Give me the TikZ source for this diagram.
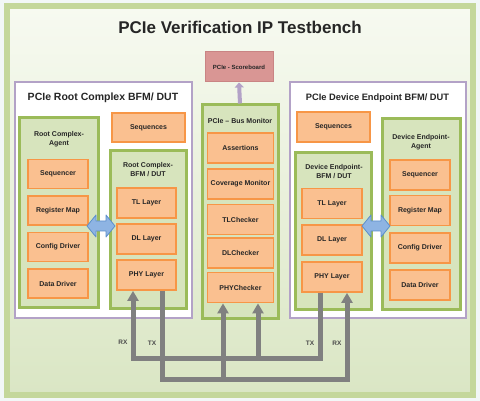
\documentclass[tikz,border=0pt]{standalone}
\usepackage{fontspec}
\setmainfont{Liberation Sans}
\usetikzlibrary{arrows.meta,shadows}
\definecolor{bgc}{HTML}{F2F7F7}
\definecolor{frame}{HTML}{C4D79B}
\definecolor{paneltop}{HTML}{F7FAF1}
\definecolor{panelbot}{HTML}{DAE6C4}
\definecolor{orfill}{HTML}{FAC090}
\definecolor{orline}{HTML}{F79646}
\definecolor{grfill}{HTML}{D7E4BD}
\definecolor{grline}{HTML}{9BBB59}
\definecolor{puline}{HTML}{B3A2C7}
\definecolor{sbfill}{HTML}{D99694}
\definecolor{sbline}{HTML}{C98484}
\definecolor{blfill}{HTML}{8EB4E3}
\definecolor{blline}{HTML}{5B8FCC}
\definecolor{busc}{HTML}{808080}
\definecolor{txt}{HTML}{262626}
\begin{document}
\begin{tikzpicture}[x=1pt,y=-1pt,
  obox/.style={draw=orline, fill=orfill, line width=1.8pt, inner sep=0pt,
    font=\fontsize{7}{8.4}\selectfont\bfseries, text=txt,
    drop shadow={shadow xshift=0.6pt, shadow yshift=-1pt, fill=black!55, opacity=0.5}},
  gbox/.style={draw=grline, fill=grfill, line width=3pt, inner sep=0pt},
  pbox/.style={draw=puline, fill=white, line width=2.6pt, inner sep=0pt},
  ptitle/.style={font=\fontsize{10.5}{12}\selectfont\bfseries, text=txt},
  gtitle/.style={font=\fontsize{7}{8.8}\selectfont\bfseries, text=txt, align=center},
  bus/.style={draw=busc, line width=5pt, line join=miter},
  busarrow/.style={bus, -{Triangle[width=11pt,length=10pt]}},
  lbl/.style={font=\fontsize{6.5}{7.5}\selectfont\bfseries, text=black!70},
  dbl/.style={fill=blfill, draw=blline, line width=0.8pt, line join=round}
]
\useasboundingbox (0,0) rectangle (480,401);
\fill[bgc] (0,0) rectangle (480,401);
% outer frame
\shade[top color=paneltop, bottom color=panelbot] (7,6.5) rectangle (473,394.5);
\draw[frame, line width=6pt] (7,6.5) rectangle (473,394.5);
\node[font=\fontsize{17}{19}\selectfont\bfseries, text=txt] (title) at (240,27) {PCIe Verification IP Testbench};

% scoreboard
\node[draw=sbline, fill=sbfill, line width=1pt, minimum width=68pt, minimum height=30pt,
  font=\fontsize{6}{7}\selectfont\bfseries, text=txt] (sb) at (239,67) {PCIe - Scoreboard};

% purple containers
\node[pbox, minimum width=177pt, minimum height=236pt] (rc) at (103.5,200) {};
\node[ptitle] (rct) at (103,98) {PCIe Root Complex BFM/ DUT};
\node[pbox, minimum width=176pt, minimum height=236pt] (de) at (378,200) {};
\node[ptitle, font=\fontsize{9.3}{11}\selectfont\bfseries] (det) at (377.5,98) {PCIe Device Endpoint BFM/ DUT};

% left agent
\node[gbox, minimum width=79pt, minimum height=190pt] (ragent) at (58.5,213) {};
\node[gtitle] (ragentt) at (59,139.5) {Root Complex-\\Agent};
\node[obox, minimum width=60pt, minimum height=29pt] (rseq) at (58,174) {Sequencer};
\node[obox, minimum width=60pt, minimum height=29pt] (rreg) at (58,210.5) {Register Map};
\node[obox, minimum width=60pt, minimum height=29pt] (rcfg) at (58,247) {Config Driver};
\node[obox, minimum width=60pt, minimum height=29pt] (rdat) at (58,283.5) {Data Driver};

% left sequences + BFM
\node[obox, minimum width=73pt, minimum height=29pt] (rseqs) at (148.5,127.5) {Sequences};
\node[gbox, minimum width=76pt, minimum height=158pt] (rbfm) at (148,230) {};
\node[gtitle] (rbfmt) at (148,169.5) {Root Complex-\\BFM / DUT};
\node[obox, minimum width=59pt, minimum height=30pt] (rtl) at (146.5,203) {TL Layer};
\node[obox, minimum width=59pt, minimum height=30pt] (rdl) at (146.5,239) {DL Layer};
\node[obox, minimum width=59pt, minimum height=30pt] (rphy) at (146.5,275) {PHY Layer};

% bus monitor
\node[gbox, minimum width=76pt, minimum height=214pt] (mon) at (240,212) {};
\node[gtitle] (mont) at (240,121) {PCIe -- Bus Monitor};
\node[obox, minimum width=66pt, minimum height=30pt] (mas) at (240.5,148) {Assertions};
\node[obox, minimum width=66pt, minimum height=30pt] (mcov) at (240.5,184) {Coverage Monitor};
\node[obox, minimum width=66pt, minimum height=30pt] (mtl) at (240.5,219.5) {TLChecker};
\node[obox, minimum width=66pt, minimum height=30pt] (mdl) at (240.5,253) {DLChecker};
\node[obox, minimum width=66pt, minimum height=30pt] (mphy) at (240.5,287.5) {PHYChecker};

% right sequences + BFM
\node[obox, minimum width=73pt, minimum height=30pt] (dseqs) at (333.5,127) {Sequences};
\node[gbox, minimum width=76pt, minimum height=157pt] (dbfm) at (333,231.5) {};
\node[gtitle] (dbfmt) at (334,171.5) {Device Endpoint-\\BFM / DUT};
\node[obox, minimum width=60pt, minimum height=30pt] (dtl) at (332,203.5) {TL Layer};
\node[obox, minimum width=60pt, minimum height=30pt] (ddl) at (332,240) {DL Layer};
\node[obox, minimum width=60pt, minimum height=30pt] (dphy) at (332,277) {PHY Layer};

% right agent
\node[gbox, minimum width=78pt, minimum height=191pt] (dagent) at (421,214.5) {};
\node[gtitle] (dagentt) at (421,142.5) {Device Endpoint-\\Agent};
\node[obox, minimum width=60pt, minimum height=30pt] (dseq) at (420,175) {Sequencer};
\node[obox, minimum width=60pt, minimum height=30pt] (dreg) at (420,210.5) {Register Map};
\node[obox, minimum width=60pt, minimum height=30pt] (dcfg) at (420,248) {Config Driver};
\node[obox, minimum width=60pt, minimum height=30pt] (ddat) at (420,285) {Data Driver};

% double arrows agent <-> BFM
\draw[dbl] (87,226) -- (96,215) -- (96,221) -- (106,221) -- (106,215) -- (115,226)
  -- (106,237) -- (106,231) -- (96,231) -- (96,237) -- cycle;
\draw[dbl] (362,226) -- (371,215) -- (371,221) -- (381,221) -- (381,215) -- (390,226)
  -- (381,237) -- (381,231) -- (371,231) -- (371,237) -- cycle;

% monitor -> scoreboard
\draw[draw=puline, line width=4pt, -{Triangle[width=9pt,length=5pt]}] (mon.north) -- (sb.south);

% buses
\draw[busarrow] (320,0 |- dphy.south) -- (320,358) -- (133,358) -- (133,0 |- rphy.south);
\draw[busarrow] (258,358) -- (258,0 |- mphy.south);
\draw[busarrow] (162,0 |- rphy.south) -- (162,379) -- (347,379) -- (347,0 |- dphy.south);
\draw[busarrow] (223,379) -- (223,0 |- mphy.south);

\node[lbl] (rxl) at (123,342) {RX};
\node[lbl] (txl) at (152,343) {TX};
\node[lbl] (txr) at (310,343) {TX};
\node[lbl] (rxr) at (337,343) {RX};
\end{tikzpicture}
\end{document}
